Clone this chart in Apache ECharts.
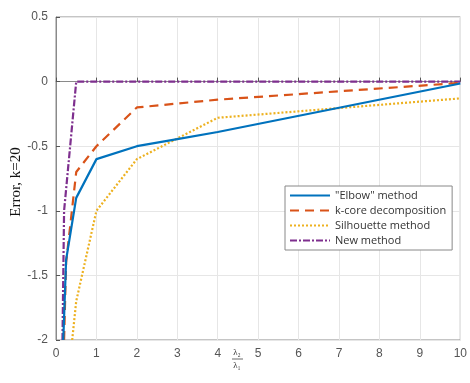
<!DOCTYPE html>
<html><head><meta charset="utf-8">
<script src="https://cdn.jsdelivr.net/npm/echarts@6/dist/echarts.min.js"></script>
<style>html,body{margin:0;padding:0;background:#fff}#c{width:470px;height:383px}</style>
</head><body><div id="c"></div>
<script>
const seriesNames = ['"Elbow" method', 'k-core decomposition', 'Silhouette method', 'New method'];
const elbowX = [0.18, 0.25, 0.5, 1, 2, 3, 4, 10];
const elbowY = [-2, -1.38, -0.9, -0.6, -0.5, -0.445, -0.39, -0.015];
const kcoreX = [0.2, 0.25, 0.5, 1, 2, 4, 10];
const kcoreY = [-2, -1.4, -0.7, -0.5, -0.2, -0.14, -0.01];
const silX = [0.4, 0.5, 1, 2, 4, 10];
const silY = [-2, -1.7, -1, -0.6, -0.28, -0.13];
const newX = [0.16, 0.2, 0.5, 10];
const newY = [-2, -1, 0, 0];
const xTicks = [0,1,2,3,4,5,6,7,8,9,10];
const yTicks = [-2,-1.5,-1,-0.5,0,0.5];

function pairs(xs, ys){ return xs.map((x,i)=>[x, ys[i]]); }
const colors = ['#0072BD', '#D95319', '#EDB120', '#7E2F8E'];
const styles = [
  {type:'solid', width:2.2},
  {type:[9,6], width:2.2},
  {type:[2,2], width:2.2},
  {type:[7,2,2,2], width:2.2}
];
const data = [pairs(elbowX, elbowY), pairs(kcoreX, kcoreY), pairs(silX, silY), pairs(newX, newY)];

const chart = echarts.init(document.getElementById('c'));
chart.setOption({
  animation:false,
  grid:{left:56, right:5, top:17, bottom:43, show:true, borderColor:'#8a8a8a', borderWidth:1},
  xAxis:{type:'value', min:0, max:10, interval:1,
    axisLine:{show:true, lineStyle:{color:'#8a8a8a'}},
    axisTick:{inside:true, length:4, lineStyle:{color:'#555'}},
    axisLabel:{color:'#555', fontSize:12, fontFamily:'Liberation Sans', margin:8,
      formatter:v=>xTicks.includes(v)?String(v):''},
    splitLine:{show:true, lineStyle:{color:'#e6e6e6'}}},
  yAxis:{type:'value', min:-2, max:0.5, interval:0.5,
    axisLine:{show:true, lineStyle:{color:'#8a8a8a'}},
    axisTick:{inside:true, length:4, lineStyle:{color:'#555'}},
    axisLabel:{color:'#555', fontSize:12, fontFamily:'Liberation Sans', margin:8,
      formatter:v=>yTicks.includes(v)?String(v):''},
    splitLine:{show:true, lineStyle:{color:'#e6e6e6'}}},
  legend:{orient:'vertical', left:285, top:186, width:150,
    itemWidth:40, itemHeight:10, itemGap:4,
    padding:[4,6,4,4],
    borderColor:'#888', borderWidth:1, backgroundColor:'#fff',
    itemStyle:{opacity:0},
    textStyle:{fontSize:11, color:'#333', fontFamily:'Open Sans'},
    data:seriesNames},
  series: seriesNames.map((n,i)=>({
    name:n, type:'line', data:data[i], symbol:'none', clip:true,
    lineStyle:Object.assign({color:colors[i]}, styles[i]),
    itemStyle:{color:colors[i]}, z: 10 - i
  })),
  graphic:[
    {type:'text', x:16, y:182, rotation:Math.PI/2,
      style:{text:'Error, k=20', fill:'#111', font:'15px "Liberation Serif"', textAlign:'center', textVerticalAlign:'middle'}},
    {type:'text', x:237, y:348, style:{text:'λ₂', fill:'#333', font:'9px "Liberation Serif"', textAlign:'center'}},
    {type:'line', shape:{x1:232, y1:359, x2:243, y2:359}, style:{stroke:'#444', lineWidth:0.8}},
    {type:'text', x:237, y:361, style:{text:'λ₁', fill:'#333', font:'9px "Liberation Serif"', textAlign:'center'}}
  ]
});
</script></body></html>
